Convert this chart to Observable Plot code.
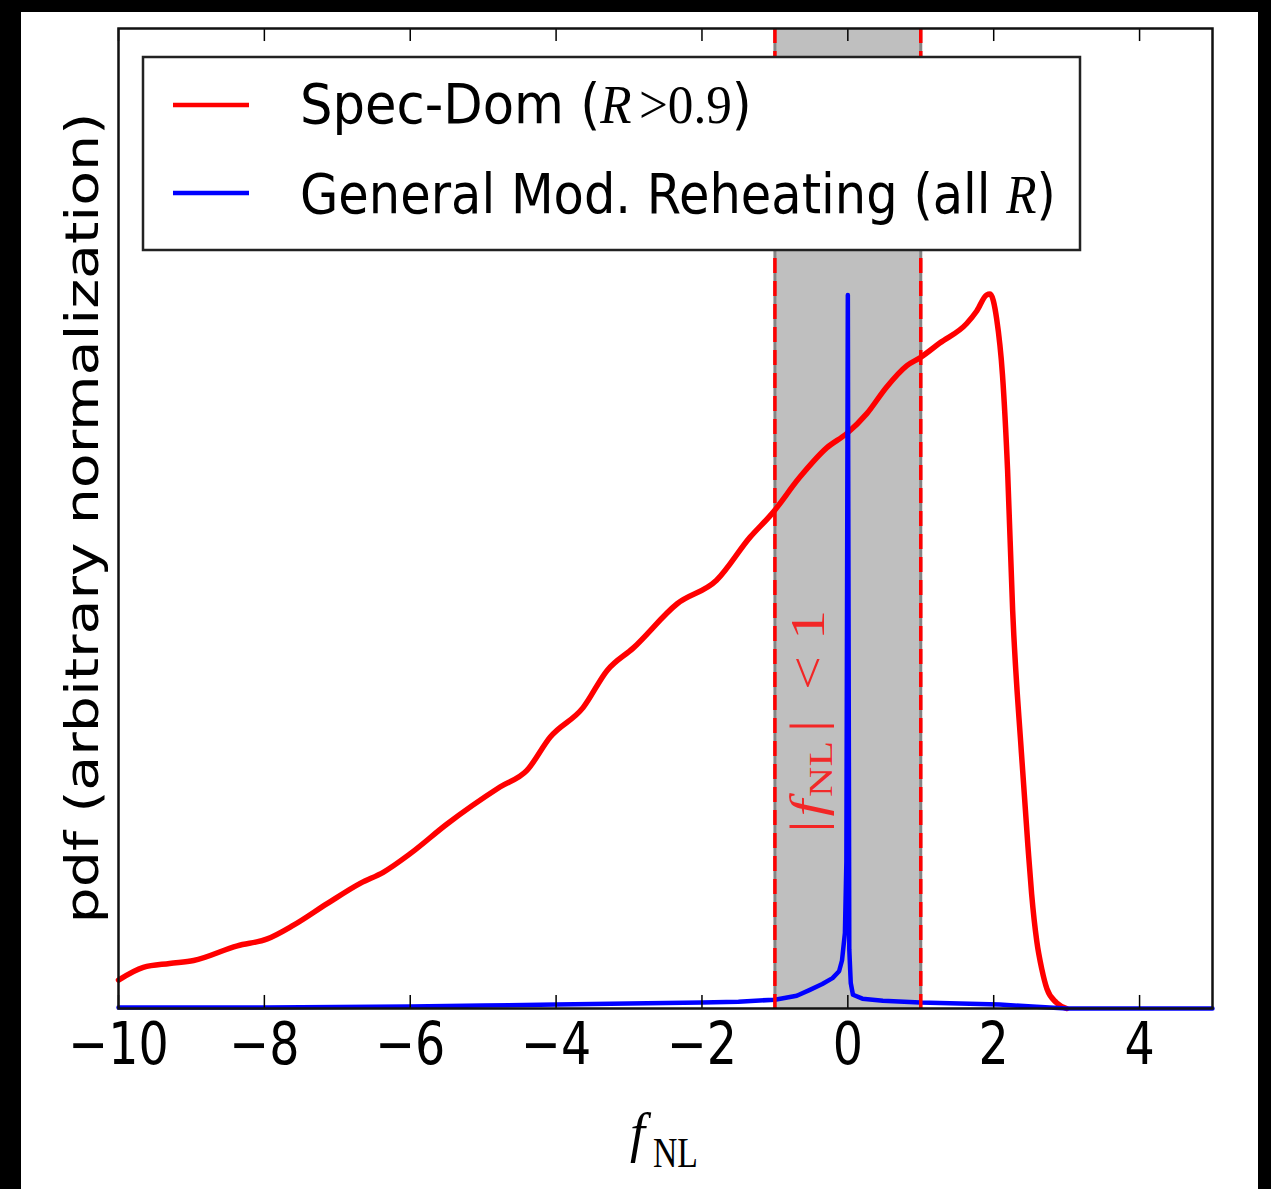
<!DOCTYPE html>
<html><head><meta charset="utf-8">
<script src="https://cdn.jsdelivr.net/npm/d3@7"></script>
<script src="https://cdn.jsdelivr.net/npm/@observablehq/plot@0.6"></script>
<style>
html,body{margin:0;padding:0;background:#000;width:1271px;height:1189px;overflow:hidden}
#panel{position:absolute;left:21px;top:12px;width:1237px;height:1177px;background:#fff}
#panel svg{display:block}
</style></head><body><div id="panel"></div>
<script>
// Spec-Dom (R > 0.9) pdf
const redX = [-10.0,-9.66,-9.3,-8.97,-8.37,-7.96,-7.6,-7.14,-6.68,-6.37,-6.0,-5.5,-4.77,-4.40,-4.08,-3.63,-3.30,-2.94,-2.34,-1.80,-1.34,-1.04,-0.66,-0.29,-0.01,0.26,0.53,0.81,0.99,1.26,1.63,1.77,1.90,1.95,2.04,2.12,2.19,2.26,2.38,2.47,2.52,2.59,2.66,2.73,2.86,3.0];
const redY = [0.029,0.042,0.046,0.049,0.064,0.071,0.085,0.107,0.128,0.139,0.158,0.188,0.226,0.243,0.277,0.307,0.345,0.368,0.413,0.437,0.481,0.505,0.542,0.572,0.587,0.607,0.634,0.656,0.664,0.679,0.699,0.712,0.728,0.729,0.704,0.647,0.550,0.406,0.261,0.165,0.117,0.069,0.040,0.020,0.006,0.0];
// General Mod. Reheating (all R) pdf
const blueX = [-10,-8,-6,-5,-4,-3,-2,-1.5,-1.0,-0.7,-0.52,-0.35,-0.21,-0.12,-0.08,-0.04,-0.02,0,0.02,0.04,0.07,0.2,0.48,0.99,2.08,2.53,3.0,5.0];
const blueY = [0.001,0.001,0.002,0.003,0.004,0.005,0.006,0.007,0.009,0.013,0.019,0.025,0.031,0.038,0.049,0.077,0.15,0.728,0.06,0.026,0.014,0.010,0.008,0.006,0.004,0.002,0.0,0.0];
const xTicks = [-10,-8,-6,-4,-2,0,2,4];
const xDomain = [-10, 5];
const band = [-1, 1];
const seriesLabels = ["Spec-Dom", "General Mod. Reheating"];

const red = redX.map((x,i)=>({x, y: redY[i]}));
const blue = blueX.map((x,i)=>({x, y: blueY[i]}));

const W = 1237, H = 1177;
const plot = Plot.plot({
  width: W, height: H,
  marginLeft: 97, marginTop: 16, marginRight: 46, marginBottom: 181,
  x: {domain: xDomain, ticks: xTicks, tickSize: 0, tickPadding: 14, label: null},
  y: {domain: [0, 1], axis: null},
  style: {fontFamily: "DejaVu Sans", fontSize: "58px", color: "#000", background: "transparent", overflow: "visible"},
  marks: [
    Plot.rect([{x1: band[0], x2: band[1]}], {x1: "x1", x2: "x2", y1: 0, y2: 1, fill: "#bfbfbf"}),
    Plot.ruleX(band, {stroke: "#858585", strokeWidth: 3}),
    Plot.line(red, {x: "x", y: "y", stroke: "#ff0000", strokeWidth: 5.5, strokeLinejoin: "round", strokeLinecap: "round", curve: "monotone-x"}),
    Plot.line(blue, {x: "x", y: "y", stroke: "#0000ff", strokeWidth: 4.5, strokeLinejoin: "round"}),
    Plot.ruleX(band, {stroke: "#ff0000", strokeWidth: 3.5, strokeDasharray: "15,8"}),
    Plot.ruleX(xTicks, {y1: 0, y2: 0.0133, stroke: "#000", strokeWidth: 1.5}),
    Plot.ruleX(xTicks, {y1: 0.9867, y2: 1, stroke: "#000", strokeWidth: 1.5}),
    Plot.frame({stroke: "#111", strokeWidth: 2.5})
  ]
});
document.getElementById("panel").appendChild(plot);

const svg = d3.select(plot);
const sx = plot.scale("x"), sy = plot.scale("y");

// horizontal condensing of a text element about an x anchor
function condense(node, f, ax) {
  const prev = node.getAttribute("transform") || "";
  node.setAttribute("transform", `${prev} translate(${ax},0) scale(${f},1) translate(${-ax},0)`);
}
function condenseTo(node, w, ax) {
  const L = node.getBBox().width;
  condense(node, w / L, ax);
}
svg.selectAll("g[aria-label='x-axis tick label'] text").each(function(){ condense(this, 0.82, 0); });

// rotated band label |f_NL| < 1
const bx = sx.apply(-0.32), by = sy.apply(0.179);
const g1 = svg.append("g").attr("transform", `translate(${bx},${by}) rotate(-90) scale(1,0.82)`);
const t1 = g1.append("text").attr("text-anchor", "start").attr("font-family", "Liberation Serif").attr("font-size", 60).attr("fill", "#ff0000").attr("fill-opacity", 0.8);
t1.append("tspan").text("|");
t1.append("tspan").attr("font-style", "italic").attr("dx", 4).text("f");
t1.append("tspan").attr("font-size", 42).attr("dy", 10).attr("dx", 3).text("NL");
t1.append("tspan").attr("dy", -10).attr("dx", 9).text("|");
t1.append("tspan").attr("dx", 30).text("<");
t1.append("tspan").attr("dx", 16).text("1");

// x label
const xf = svg.append("text").attr("text-anchor", "start").attr("x", 609).attr("y", 1139)
  .attr("font-family", "Liberation Serif").attr("font-style", "italic").attr("font-size", 54).text("f");
const xs = svg.append("text").attr("text-anchor", "start").attr("x", 632).attr("y", 1155)
  .attr("font-family", "Liberation Serif").attr("font-size", 42).text("NL");
condenseTo(xs.node(), 45, 632);

// y label
svg.append("text").attr("transform", "translate(77,506) rotate(-90) scale(1,0.82)").attr("text-anchor", "middle")
  .attr("font-family", "DejaVu Sans").attr("font-size", 57).attr("fill", "#000")
  .text("pdf (arbitrary normalization)");

// legend
const lg = svg.append("g");
lg.append("rect").attr("x", 122).attr("y", 45).attr("width", 937).attr("height", 193)
  .attr("fill", "#fff").attr("stroke", "#222").attr("stroke-width", 2.5);
const lcol = ["#ff0000", "#0000ff"];
const ly = [93, 181];
lcol.forEach((c,i)=>{
  lg.append("line").attr("x1", 152).attr("x2", 228).attr("y1", ly[i]).attr("y2", ly[i]).attr("stroke", c).attr("stroke-width", 4.5);
});
const lt1 = lg.append("text").attr("text-anchor", "start").attr("x", 279).attr("y", 111).attr("font-family", "DejaVu Sans").attr("font-size", 55);
lt1.append("tspan").text(seriesLabels[0] + " (");
lt1.append("tspan").attr("font-family", "Liberation Serif").attr("font-style", "italic").text("R");
lt1.append("tspan").attr("font-family", "Liberation Serif").attr("dx", 8).text(">0.9");
lt1.append("tspan").text(")");
const lt2 = lg.append("text").attr("text-anchor", "start").attr("x", 279).attr("y", 201).attr("font-family", "DejaVu Sans").attr("font-size", 55);
lt2.append("tspan").text(seriesLabels[1] + " (all ");
lt2.append("tspan").attr("font-family", "Liberation Serif").attr("font-style", "italic").text("R");
lt2.append("tspan").text(")");
condenseTo(lt1.node(), 452, 279);
condenseTo(lt2.node(), 756, 279);
</script>
</body></html>
